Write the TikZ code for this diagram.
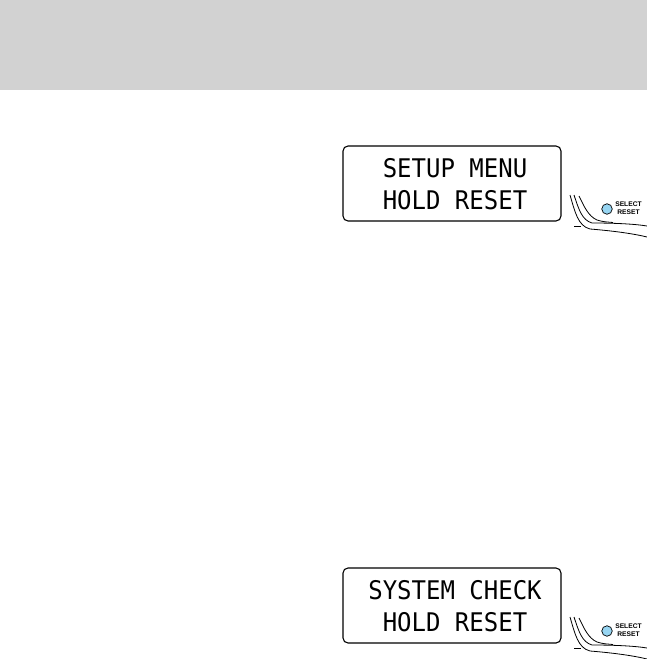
\documentclass[tikz,border=0pt]{standalone}
\usepackage{fontspec}
\newfontfamily\lcdfont{DejaVu Sans Mono}
\newfontfamily\btnfont{Liberation Sans}
\definecolor{bandgray}{HTML}{D2D2D2}
\definecolor{btnblue}{HTML}{97D5F2}
\tikzset{
  lcdbox/.style={draw=black, line width=1.1pt, rounded corners=5pt, minimum width=218pt, minimum height=75pt, inner sep=0pt},
  lcdtext/.style={font=\lcdfont\fontsize{24}{24}\selectfont, anchor=base, inner sep=0pt, yscale=1.07},
  btn/.style={circle, draw=black, line width=0.7pt, fill=btnblue, minimum size=10.5pt, inner sep=0pt},
  btnlabel/.style={font=\btnfont\bfseries\fontsize{6.7}{8.2}\selectfont, align=center, inner sep=0pt},
  bezel/.style={draw=black, line width=0.8pt}
}
\newcommand{\displaygroup}[4]{%
  \node[lcdbox] (#1box) at (452,183.5) {};
  \node[lcdtext] (#1lineA) at (455,177.5) {#2};
  \node[lcdtext] (#1lineB) at (455,209.5) {#3};
  \node[btn] (#1btn) at (607,209) {};
  \node[btnlabel] (#1lbl) at (628.5,208) {SELECT\\RESET};
  \draw[bezel] (570,195) .. controls (575,212) and (578,226) .. (590,229) .. controls (615,231) and (635,234) .. (647,237);
  \draw[bezel] (574,195) .. controls (579,210) and (582,220) .. (592,223) .. controls (615,223) and (635,224) .. (647,226);
  \draw[bezel] (579,196) .. controls (584,206) and (588,216) .. (597,220) .. controls (603,222) and (608,222) .. (613,222.5);
  \draw[bezel] (574,226.5) -- (581,226.5);
}
\begin{document}
\begin{tikzpicture}[x=1pt,y=-1pt]
  \useasboundingbox (0,0) rectangle (647,659);
  \fill[bandgray] (0,0) rectangle (647,90);
  \begin{scope}
    \displaygroup{a}{SETUP MENU}{HOLD RESET}{}
  \end{scope}
  \begin{scope}[shift={(0,422)}]
    \displaygroup{b}{SYSTEM CHECK}{HOLD RESET}{}
  \end{scope}
\end{tikzpicture}
\end{document}
